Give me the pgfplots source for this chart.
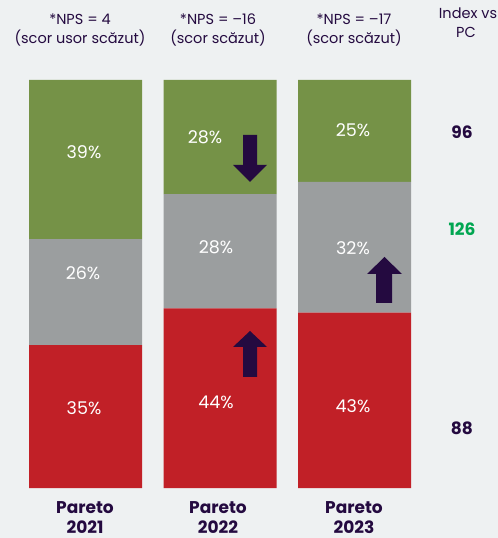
\documentclass[border=0pt]{standalone}
\usepackage{pgfplots}
\pgfplotsset{compat=1.18}
\usepackage{fontspec}
\setmainfont{Poppins}
\definecolor{bgc}{RGB}{238,241,242}
\definecolor{pgreen}{RGB}{117,146,71}
\definecolor{pgray}{RGB}{155,158,159}
\definecolor{pred}{RGB}{193,32,39}
\definecolor{ppurple}{RGB}{36,10,64}
\definecolor{pgtext}{RGB}{0,166,81}
\begin{document}
\begin{tikzpicture}
\fill[bgc] (0,-50bp) rectangle (498bp,488bp);
\useasboundingbox (0,-50bp) rectangle (498bp,488bp);
\begin{axis}[scale only axis, width=498bp, height=408bp,
  xmin=-0.6357, xmax=3.0669, ymin=0, ymax=100,
  hide axis, ybar stacked, bar width=113bp, clip=false]
% red / gray / green shares per year (2021, 2022, 2023)
\addplot[fill=pred, draw=none] coordinates {(0,35) (1,44) (2,43)};
\addplot[fill=pgray, draw=none] coordinates {(0,26) (1,28) (2,32)};
\addplot[fill=pgreen, draw=none] coordinates {(0,39) (1,28) (2,25)};
\end{axis}
% annotations in pixel-like units, origin top left
\begin{scope}[x=1bp, y=-1bp, shift={(0bp,488bp)}]
\tikzset{hd/.style={text=ppurple, inner sep=0, font=\fontsize{14.5bp}{16bp}\selectfont},
  pc/.style={text=white, inner sep=0, font=\fontsize{17.5bp}{19bp}\selectfont},
  bd/.style={text=ppurple, inner sep=0, font=\fontsize{17bp}{19bp}\selectfont\bfseries}}
% headers
\node[hd] at (80,19) {*NPS = 4};
\node[hd] at (80,38) {(scor usor scăzut)};
\node[hd] at (218,19) {*NPS = –16};
\node[hd] at (218,38) {(scor scăzut)};
\node[hd] at (354,19) {*NPS = –17};
\node[hd] at (354,38) {(scor scăzut)};
\node[hd] at (468,13) {Index vs};
\node[hd] at (466,32) {PC};
% percent labels
\node[pc] at (84,152) {39\%};
\node[pc] at (83,273) {26\%};
\node[pc] at (84,408) {35\%};
\node[pc] at (205,137) {28\%};
\node[pc] at (216,247) {28\%};
\node[pc] at (216,402) {44\%};
\node[pc] at (353,130) {25\%};
\node[pc] at (353,248) {32\%};
\node[pc] at (353,406) {43\%};
% index values
\node[bd] at (462,132) {96};
\node[bd, text=pgtext] at (462,229) {126};
\node[bd] at (462,428) {88};
% category labels
\node[bd] at (85,508) {Pareto};
\node[bd] at (85,527) {2021};
\node[bd] at (218,508) {Pareto};
\node[bd] at (218,527) {2022};
\node[bd] at (354,508) {Pareto};
\node[bd] at (354,527) {2023};
% arrows
\fill[ppurple] (243,135) -- (257,135) -- (257,165) -- (267,165) -- (250,182) -- (233,165) -- (243,165) -- cycle;
\fill[ppurple] (243,377) -- (257,377) -- (257,347) -- (267,347) -- (250,331) -- (233,347) -- (243,347) -- cycle;
\fill[ppurple] (376,303) -- (392,303) -- (392,274) -- (402,274) -- (384.5,257) -- (367,274) -- (376,274) -- cycle;
\end{scope}
\end{tikzpicture}
\end{document}
